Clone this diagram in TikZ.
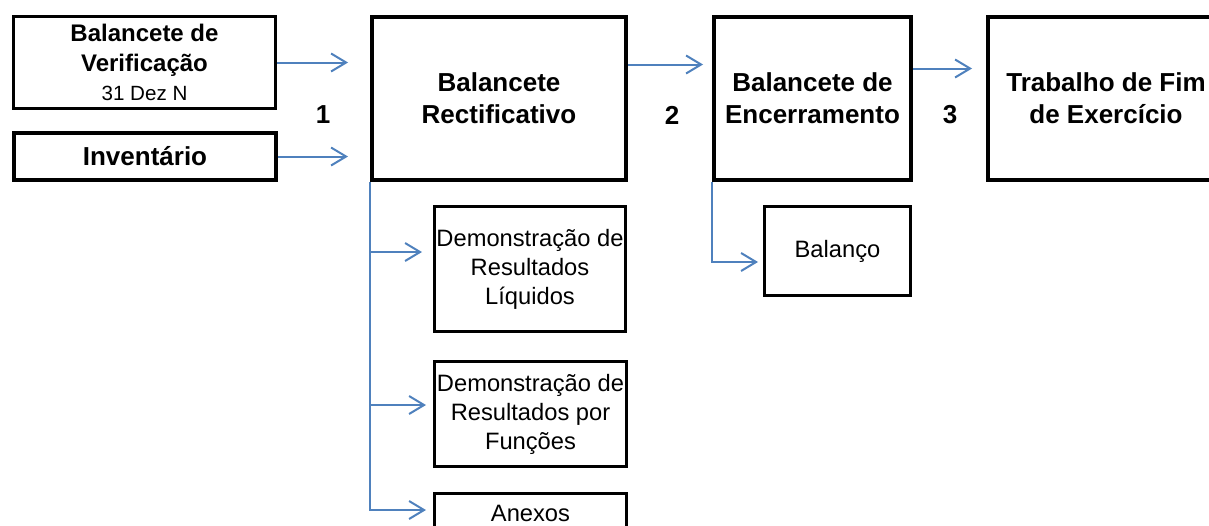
\documentclass[tikz,border=0pt]{standalone}
\usepackage{fontspec}
\setmainfont{Liberation Sans}
\usetikzlibrary{arrows.meta}
\definecolor{linkblue}{HTML}{4F81BD}
\tikzset{
  bigbox/.style={
    draw,
    line width=4pt,
    inner sep=2pt,
    align=center,
    font=\fontsize{26}{32}\selectfont\bfseries
  },
  smallbox/.style={
    draw,
    line width=3pt,
    inner sep=1pt,
    align=center,
    font=\fontsize{23.7}{29}\selectfont
  },
  flow/.style={
    draw=linkblue,
    line width=2pt,
    -{Straight Barb[length=15pt,width=18pt]}
  },
  numlabel/.style={
    font=\fontsize{26}{32}\selectfont\bfseries
  }
}

\begin{document}
\begin{tikzpicture}[x=1pt,y=-1pt]
    \useasboundingbox (0,0) rectangle (1209,525);
    % inputs
    \node[bigbox, line width=3pt, minimum width=262pt, minimum height=92pt,
          font=\fontsize{24}{29.5}\selectfont\bfseries] (verif) at (144.5,62.5)
          {Balancete de\\Verificação\\{\fontsize{20.6}{25}\selectfont\mdseries 31 Dez N}};
    \node[bigbox, minimum width=262pt, minimum height=47pt] (inv) at (145,156.5) {Inventário};
    % main steps
    \node[bigbox, minimum width=254pt, minimum height=163pt] (rect) at (499,98.5) {Balancete\\Rectificativo};
    \node[bigbox, minimum width=197pt, minimum height=163pt] (enc) at (812.5,98.5) {Balancete de\\Encerramento};
    \node[bigbox, minimum width=236pt, minimum height=163pt] (trab) at (1106,98.5) {Trabalho de Fim\\de Exercício};
    \node[numlabel] (n1) at (323,115) {1};
    \node[numlabel] (n2) at (672,115) {2};
    \node[numlabel] (n3) at (950,115) {3};
    % outputs
    \node[smallbox, minimum width=191pt, minimum height=125pt] (drl) at (530,269) {Demonstração de\\Resultados\\Líquidos};
    \node[smallbox, minimum width=192pt, minimum height=105pt] (drf) at (530.5,414) {Demonstração de\\Resultados por\\Funções};
    \node[smallbox, minimum width=192pt, minimum height=40pt] (anx) at (530.5,513) {Anexos};
    \node[smallbox, minimum width=146pt, minimum height=89pt] (bal) at (837.5,251) {Balanço};
    % arrows
    \draw[flow, shorten >=22pt] (verif.east) -- (rect.west |- verif.east);
    \draw[flow, shorten >=22pt] (inv.east) -- (rect.west |- inv.east);
    \draw[flow, shorten >=9pt] ([yshift=34pt]rect.east) -- ([yshift=34pt]enc.west);
    \draw[flow, shorten >=14pt] ([yshift=30pt]enc.east) -- ([yshift=30pt]trab.west);
    \draw[flow, shorten >=11pt] (rect.south west) |- ([yshift=17pt]drl.west);
    \draw[flow, shorten >=7pt] (rect.south west) |- ([yshift=9pt]drf.west);
    \draw[flow, shorten >=7pt] (rect.south west) |- ([yshift=3pt]anx.west);
    \draw[flow, shorten >=5pt] (enc.south west) |- ([yshift=-11pt]bal.west);
\end{tikzpicture}
\end{document}
